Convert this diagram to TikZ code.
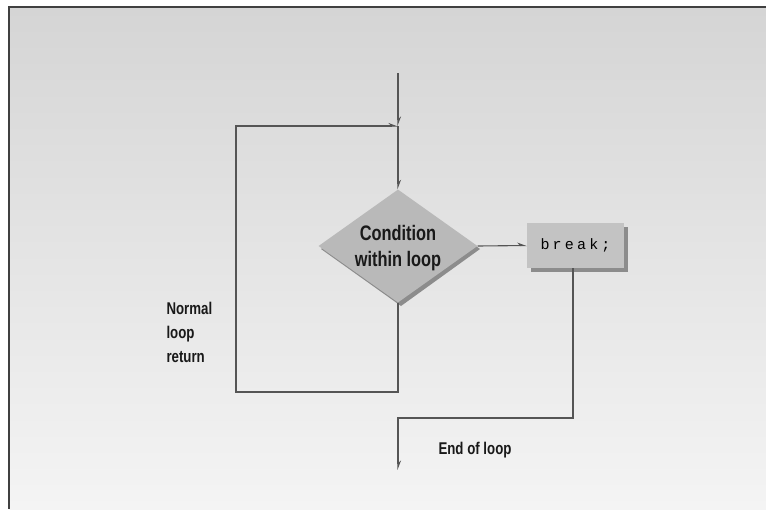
\documentclass[tikz,border=0pt]{standalone}
\usepackage{fontspec}
\setmainfont{Liberation Sans}[FakeStretch=0.78]
\newfontfamily\codefont{Liberation Mono}
\usetikzlibrary{shapes.geometric,arrows.meta}
\definecolor{bgtop}{HTML}{D5D5D5}
\definecolor{bgbot}{HTML}{F4F4F4}
\definecolor{shapefill}{HTML}{B9B9B9}
\definecolor{linec}{HTML}{555555}
\tikzset{
  conn/.style={draw=linec, line width=1.1pt, -{Stealth[length=8pt,width=6pt,left]}},
  lbl/.style={font=\fontsize{17}{24}\selectfont\bfseries, align=left, text=black!90},
  condlbl/.style={font=\fontsize{21}{26}\selectfont\bfseries, align=center, text=black!90},
}
\newcommand{\codesp}{\hspace{3.2pt}}
\begin{document}
\begin{tikzpicture}[x=1pt,y=-1pt]
\useasboundingbox (0,0) rectangle (766,509);
\fill[white] (0,0) rectangle (766,509);
\shade[top color=bgtop, bottom color=bgbot] (9,7) rectangle (766,509);
\draw[black!75, line width=1.6pt] (9,509) -- (9,7) -- (766,7);
% diamond with shadow
\fill[black!45] (321,249) -- (401,193) -- (480,249) -- (401,306) -- cycle;
\node[diamond, fill=shapefill, minimum width=159pt, minimum height=113pt, inner sep=0pt] (cond) at (398,246) {};
\node[condlbl] at (398,248.5) {Condition\\within loop};
% break box with shadow
\fill[black!45] (531,227) rectangle (628,272);
\node[fill=shapefill!85!white, minimum width=97pt, minimum height=45pt, inner sep=0pt] (brk) at (575.5,245.5) {\codefont\fontsize{15}{15}\selectfont b\codesp r\codesp e\codesp a\codesp k\codesp ;};
% coordinates
\coordinate (top) at (398,73);
\coordinate (join) at (398,126);
\coordinate (bl) at (398,392);
\coordinate (lb) at (236,392);
\coordinate (lt) at (236,126);
\coordinate (b1) at (573,418);
\coordinate (b2) at (398,418);
\coordinate (endp) at (398,470);
% connectors
\draw[conn] (top) -- (join);
\draw[conn] (join) -- (cond.north);
\draw[conn] (cond.south) -- (bl) -- (lb) -- (lt) -- (join);
\draw[conn] (cond.east) -- (brk.west);
\draw[conn] (brk.south -| b1) -- (b1) -- (b2) -- (endp);
% labels
\node[lbl, anchor=north west] at (163,299) {Normal\\loop\\return};
\node[lbl, anchor=west] at (435,450) {End of loop};
\end{tikzpicture}
\end{document}
